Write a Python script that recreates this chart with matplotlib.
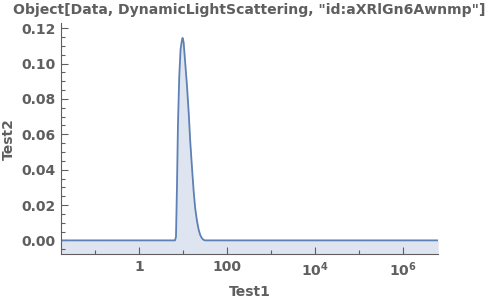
import matplotlib
matplotlib.use("Agg")
import matplotlib.pyplot as plt
from matplotlib.ticker import FixedLocator, FuncFormatter, MultipleLocator, NullFormatter

# Data
size_values = [0.0164, 6.5, 6.83, 7.19, 7.58, 8.11, 8.68, 9.3, 9.64, 10.2, 11.1,
               12.1, 13.3, 14.4, 15.8, 17.2, 18.7, 20.5, 22.4, 24.3, 26.6, 28.9,
               31.6, 6.24e6]
intensity = [0.0, 0.0, 0.002, 0.030, 0.066, 0.093, 0.108, 0.113, 0.1145, 0.112, 0.100,
             0.088, 0.072, 0.056, 0.041, 0.028, 0.018, 0.011, 0.006, 0.003, 0.0012,
             0.0003, 0.0, 0.0]
x_major_ticks = [1, 100, 1e4, 1e6]
x_tick_labels = ["1", "100", r"$\mathbf{10^{4}}$", r"$\mathbf{10^{6}}$"]
title = 'Object[Data, DynamicLightScattering, "id:aXRlGn6Awnmp"]'
xlabel = "Test1"
ylabel = "Test2"

gray = "#5f5f5f"
line_c = (0.368417, 0.506779, 0.709798)

plt.rcParams['font.family'] = ['DejaVu Sans']
plt.rcParams['mathtext.fontset'] = 'dejavusans'
plt.rcParams['mathtext.default'] = 'bf'

fig = plt.figure(figsize=(5.0, 3.01), dpi=100)
ax = fig.add_axes([0.1214, 0.155, 0.7552, 0.7676])

ymin, ymax = -0.0079, 0.1228
ax.set_xscale('log')
ax.set_xlim(0.0164, 6.24e6)
ax.set_ylim(ymin, ymax)

ax.fill_between(size_values, intensity, ymin, color=line_c, alpha=0.2, linewidth=0)
ax.plot(size_values, intensity, color=line_c, linewidth=1.3)

for s in ['top', 'right']:
    ax.spines[s].set_visible(False)
for s in ['left', 'bottom']:
    ax.spines[s].set_color(gray)
    ax.spines[s].set_linewidth(0.8)

lab_map = dict(zip(x_major_ticks, x_tick_labels))
ax.xaxis.set_major_locator(FixedLocator(x_major_ticks))
ax.xaxis.set_major_formatter(FuncFormatter(lambda v, p: lab_map.get(v, "")))
ax.xaxis.set_minor_locator(FixedLocator([0.1, 10, 1e3, 1e5]))
ax.xaxis.set_minor_formatter(NullFormatter())
ax.yaxis.set_major_locator(MultipleLocator(0.02))
ax.yaxis.set_minor_locator(MultipleLocator(0.005))
ax.yaxis.set_major_formatter(FuncFormatter(lambda v, p: f"{v:.2f}"))

ax.tick_params(which='both', direction='in', colors=gray, labelcolor=gray, width=0.8)
ax.tick_params(which='major', length=5, labelsize=10)
ax.tick_params(which='minor', length=3)
ax.tick_params(axis='x', which='major', pad=4)
for lab in ax.get_xticklabels() + ax.get_yticklabels():
    lab.set_fontweight('bold')

ax.set_xlabel(xlabel, fontsize=10, fontweight='bold', color=gray, labelpad=5)
ax.set_ylabel(ylabel, fontsize=10, fontweight='bold', color=gray, labelpad=4)
fig.text(0.498, 0.968, title, ha='center', va='center', fontsize=10.1,
         fontweight='bold', color=gray)

fig.savefig("out.png", dpi=100)
